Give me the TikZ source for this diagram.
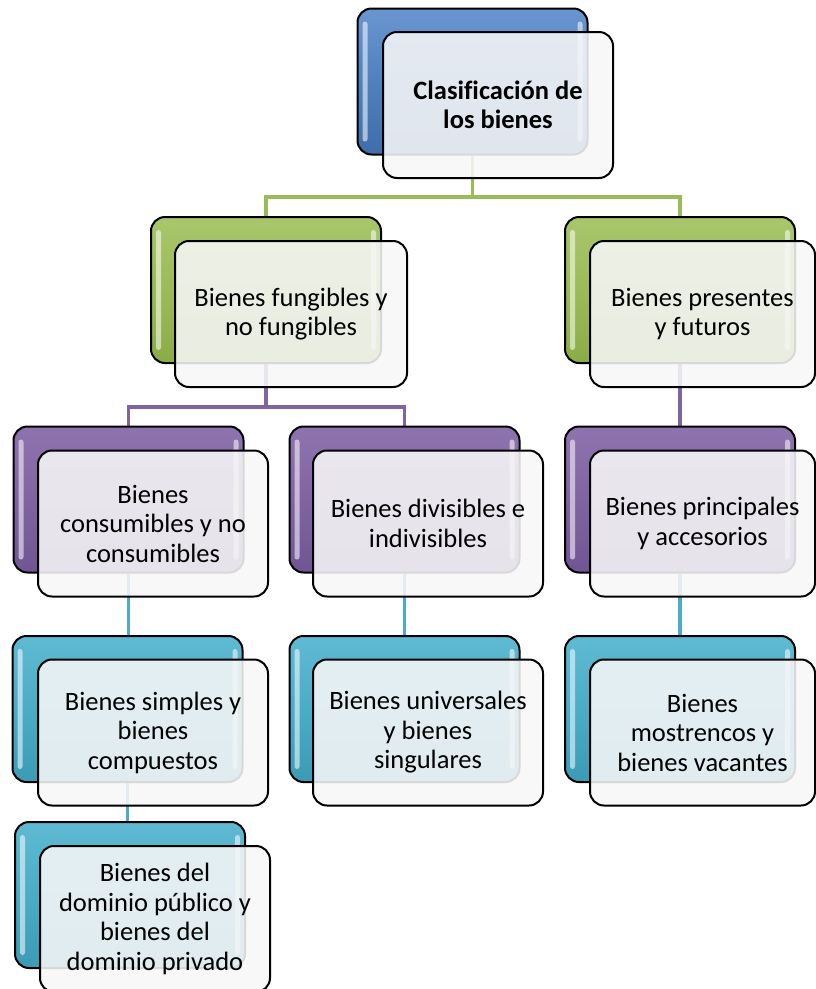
\documentclass[tikz,border=0pt]{standalone}
\usepackage{fontspec}
\setmainfont[Ligatures=NoCommon]{Carlito}
\usetikzlibrary{calc}
\pgfdeclarelayer{bg}
\pgfsetlayers{bg,main}
\definecolor{cblue}{HTML}{4F81BD}
\definecolor{cbluel}{HTML}{6A96D0}
\definecolor{cblued}{HTML}{3F6DAA}
\definecolor{cgreen}{HTML}{9BBB59}
\definecolor{cgreenl}{HTML}{A8C66B}
\definecolor{cgreend}{HTML}{8AAC46}
\definecolor{cpurple}{HTML}{8064A2}
\definecolor{cpurplel}{HTML}{8E74AF}
\definecolor{cpurpled}{HTML}{6F5593}
\definecolor{cteal}{HTML}{4BACC6}
\definecolor{cteall}{HTML}{5FBAD2}
\definecolor{cteald}{HTML}{3B9BB5}
\tikzset{
  backbox/.style={draw=black, line width=2pt, rounded corners=14pt,
    minimum width=230pt, minimum height=146pt, inner sep=0pt},
  frontbox/.style={draw=black, line width=2pt, rounded corners=14pt,
    fill=white!97!black, fill opacity=0.88, text opacity=1,
    minimum height=146pt, inner sep=0pt, align=center,
    font=\fontsize{26.5}{29.5}\selectfont},
  conn/.style={line width=3.3pt},
  gloss/.style={fill=white, opacity=0.55, rounded corners=2.5pt}
}
% #1 name, #2 colour base, #3 back centre, #4 front centre, #5 front width, #6 text
\newcommand\tbox[6]{%
  \node[backbox, top color=#2l, bottom color=#2d, middle color=#2] (b#1) at (#3) {};
  \fill[gloss] ([xshift=6pt,yshift=-14pt]b#1.north west) rectangle ([xshift=11pt,yshift=14pt]b#1.south west);
  \fill[gloss] ([xshift=-11pt,yshift=-14pt]b#1.north east) rectangle ([xshift=-6pt,yshift=14pt]b#1.south east);
  \node[frontbox, minimum width=#5] (f#1) at (#4) {#6};
}
\begin{document}
\begin{tikzpicture}[x=1pt,y=-1pt]
\useasboundingbox (0,0) rectangle (816,989);
\tbox{top}{cblue}{472.5,81.5}{498,105}{230pt}{\bfseries Clasificación de\\\bfseries los bienes}
\tbox{GL}{cgreen}{266,290}{291,314}{232pt}{Bienes fungibles y\\no fungibles}
\tbox{GR}{cgreen}{680,290}{702.5,314}{225pt}{Bienes presentes\\y futuros}
\tbox{PL}{cpurple}{128.5,499.5}{153,523.5}{230pt}{Bienes\\consumibles y no\\consumibles}
\tbox{PM}{cpurple}{404.5,499.5}{428,523.5}{230pt}{Bienes divisibles e\\indivisibles}
\tbox{PR}{cpurple}{680,499.5}{702.5,523.5}{225pt}{Bienes principales\\y accesorios}
\tbox{TL}{cteal}{127.5,709}{153,732.5}{230pt}{Bienes simples y\\bienes\\compuestos}
\tbox{TM}{cteal}{404.5,709}{428,732.5}{230pt}{Bienes universales\\y bienes\\singulares}
\tbox{TR}{cteal}{680,709}{702.5,732.5}{225pt}{Bienes\\mostrencos y\\bienes vacantes}
\tbox{BT}{cteal}{130,895}{155,919}{230pt}{Bienes del\\dominio público y\\bienes del\\dominio privado}
\coordinate (h0) at (0,197);
\coordinate (h1) at (0,407);
\begin{pgfonlayer}{bg}
  \draw[conn, draw=cgreen] (btop.south) -- (btop.south |- h0);
  \draw[conn, draw=cgreen] (bGL.north) |- (btop.south |- h0) -| (bGR.north);
  \draw[conn, draw=cpurple] (bGL.south) -- (bGL.south |- h1);
  \draw[conn, draw=cpurple] (bPL.north) |- (bGL.south |- h1) -| (bPM.north);
  \draw[conn, draw=cpurple] (bGR.south) -- (bPR.north);
  \draw[conn, draw=cteal] (bPL.south) -- (bPL.south |- bTL.north);
  \draw[conn, draw=cteal] (bPM.south) -- (bTM.north);
  \draw[conn, draw=cteal] (bPR.south) -- (bTR.north);
  \draw[conn, draw=cteal] (bTL.south) -- (bTL.south |- bBT.north);
\end{pgfonlayer}
\end{tikzpicture}
\end{document}
